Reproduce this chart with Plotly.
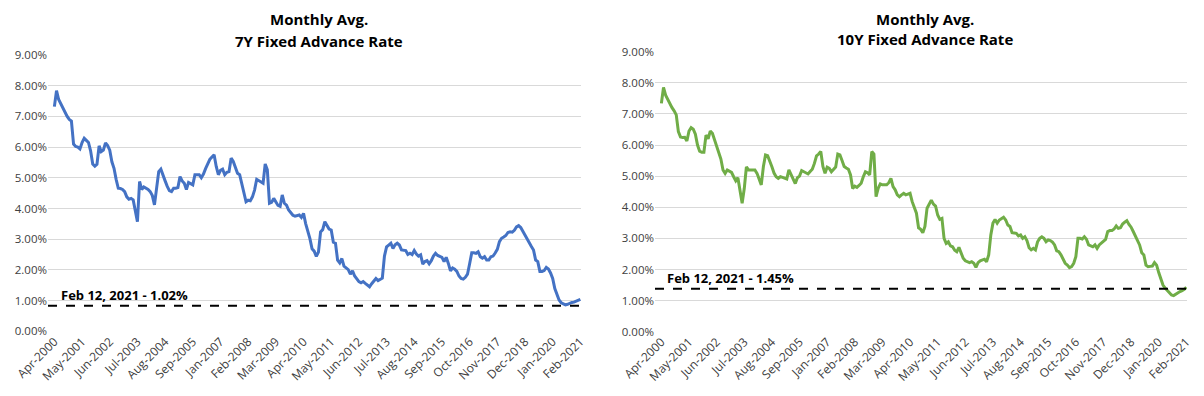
import pandas as pd
import plotly.graph_objects as go

# Category labels: monthly, Apr-2000 .. Feb-2021 (3 months absent in 2006 per axis labels)
all_months = pd.date_range("2000-04-01", "2021-02-01", freq="MS")
missing = ["2006-06", "2006-07", "2006-08"]
months = [d.strftime("%b-%Y") for d in all_months if d.strftime("%Y-%m") not in missing]

tick_labels = ["Apr-2000", "May-2001", "Jun-2002", "Jul-2003", "Aug-2004", "Sep-2005",
               "Jan-2007", "Feb-2008", "Mar-2009", "Apr-2010", "May-2011", "Jun-2012",
               "Jul-2013", "Aug-2014", "Sep-2015", "Oct-2016", "Nov-2017", "Dec-2018",
               "Jan-2020", "Feb-2021"]

rate_7y = [
    7.32, 7.84, 7.55, 7.40, 7.28, 7.12, 7.00, 6.90, 6.85, 6.10,
    6.02, 6.00, 5.94, 6.15, 6.29, 6.22, 6.15, 5.88, 5.45, 5.38,
    5.44, 6.04, 5.85, 5.90, 6.14, 6.05, 5.90, 5.52, 5.31, 4.95,
    4.66, 4.65, 4.62, 4.55, 4.38, 4.30, 4.33, 4.28, 3.95, 3.57,
    4.88, 4.62, 4.70, 4.66, 4.62, 4.55, 4.42, 4.12, 4.70, 5.20,
    5.28, 5.05, 4.90, 4.72, 4.58, 4.55, 4.66, 4.66, 4.68, 5.04,
    4.90, 4.82, 4.62, 4.85, 4.80, 4.77, 5.10, 5.10, 5.10, 5.00,
    5.12, 5.30, 5.48, 5.60, 5.68, 5.75, 5.37, 5.10, 5.24, 5.28,
    5.10, 5.18, 5.20, 5.64, 5.53, 5.35, 5.15, 5.10, 4.82, 4.60,
    4.22, 4.27, 4.25, 4.38, 4.60, 4.95, 4.90, 4.88, 4.82, 5.45,
    5.26, 4.17, 4.20, 4.33, 4.20, 4.10, 4.07, 4.44, 4.17, 4.11,
    3.95, 3.85, 3.78, 3.75, 3.77, 3.79, 3.71, 3.84, 3.51, 3.30,
    3.02, 2.69, 2.61, 2.44, 2.58, 3.24, 3.31, 3.57, 3.45, 3.33,
    3.30, 2.90, 2.87, 2.32, 2.23, 2.37, 2.12, 2.05, 2.01, 1.86,
    1.97, 1.80, 1.70, 1.62, 1.58, 1.62, 1.56, 1.50, 1.45, 1.55,
    1.62, 1.72, 1.65, 1.70, 1.73, 2.45, 2.75, 2.81, 2.87, 2.70,
    2.82, 2.87, 2.81, 2.65, 2.64, 2.63, 2.50, 2.54, 2.50, 2.63,
    2.52, 2.45, 2.49, 2.19, 2.27, 2.30, 2.20, 2.30, 2.45, 2.54,
    2.47, 2.43, 2.41, 2.27, 2.41, 2.21, 1.97, 2.06, 2.02, 1.95,
    1.80, 1.72, 1.70, 1.76, 1.86, 2.20, 2.56, 2.56, 2.54, 2.59,
    2.43, 2.38, 2.43, 2.32, 2.32, 2.43, 2.45, 2.55, 2.67, 2.92,
    3.03, 3.07, 3.12, 3.22, 3.24, 3.23, 3.29, 3.40, 3.44, 3.38,
    3.25, 3.11, 3.00, 2.87, 2.76, 2.65, 2.32, 2.27, 1.95, 1.95,
    1.98, 2.08, 2.03, 1.90, 1.72, 1.39, 1.18, 1.02, 0.93, 0.89,
    0.86, 0.88, 0.92, 0.94, 0.95, 0.98, 1.00, 1.04,
]

rate_10y = [
    7.34, 7.85, 7.60, 7.45, 7.30, 7.20, 7.10, 6.97, 6.43, 6.26,
    6.24, 6.25, 6.13, 6.45, 6.56, 6.51, 6.35, 6.00, 5.80, 5.77,
    5.77, 6.32, 6.20, 6.45, 6.38, 6.16, 5.95, 5.80, 5.55, 5.20,
    5.09, 5.20, 5.17, 5.12, 4.98, 4.85, 4.95, 4.56, 4.13, 4.60,
    5.30, 5.20, 5.20, 5.22, 5.20, 5.09, 4.88, 4.72, 5.31, 5.68,
    5.66, 5.50, 5.30, 5.10, 4.98, 4.93, 4.98, 4.96, 4.94, 4.91,
    5.20, 5.06, 4.91, 4.76, 4.95, 5.00, 5.18, 5.14, 5.12, 5.07,
    5.15, 5.22, 5.41, 5.65, 5.71, 5.79, 5.31, 5.09, 5.29, 5.25,
    5.14, 5.20, 5.29, 5.71, 5.68, 5.50, 5.31, 5.26, 5.22, 5.04,
    4.60, 4.68, 4.64, 4.70, 4.77, 4.98, 5.14, 5.11, 5.04, 5.79,
    5.71, 4.34, 4.61, 4.75, 4.72, 4.72, 4.72, 4.79, 4.93, 4.66,
    4.56, 4.40, 4.34, 4.40, 4.45, 4.40, 4.42, 4.45, 4.18, 3.97,
    3.81, 3.34, 3.29, 3.18, 3.38, 3.97, 4.11, 4.23, 4.10, 4.04,
    3.75, 3.61, 3.64, 3.00, 2.84, 2.89, 2.76, 2.73, 2.62, 2.57,
    2.71, 2.50, 2.36, 2.28, 2.25, 2.22, 2.25, 2.20, 2.07, 2.22,
    2.28, 2.31, 2.33, 2.25, 2.47, 3.11, 3.49, 3.61, 3.49, 3.59,
    3.65, 3.68, 3.59, 3.43, 3.38, 3.18, 3.17, 3.16, 3.08, 3.11,
    3.00, 3.05, 2.93, 2.70, 2.63, 2.68, 2.63, 2.89, 3.00, 3.05,
    3.00, 2.89, 2.95, 2.93, 2.88, 2.79, 2.60, 2.57, 2.47, 2.33,
    2.20, 2.14, 2.06, 2.09, 2.20, 2.41, 3.00, 3.00, 2.98, 3.05,
    2.97, 2.79, 2.76, 2.73, 2.79, 2.68, 2.79, 2.84, 2.90, 2.97,
    3.22, 3.25, 3.25, 3.30, 3.40, 3.32, 3.34, 3.46, 3.52, 3.57,
    3.45, 3.36, 3.22, 3.08, 2.95, 2.79, 2.54, 2.47, 2.14, 2.09,
    2.10, 2.11, 2.22, 2.14, 1.90, 1.68, 1.50, 1.40, 1.32, 1.25,
    1.18, 1.16, 1.21, 1.25, 1.29, 1.32, 1.36, 1.43,
]

ref_level_7y = 0.83
ref_level_10y = 1.38
ref_text_7y = "Feb 12, 2021 - 1.02%"
ref_text_10y = "Feb 12, 2021 - 1.45%"
y_ticks = [0, 1, 2, 3, 4, 5, 6, 7, 8, 9]

OFF = 8  # page body margin
W, H = 1204 - OFF, 396 - OFF
FONT = "Open Sans"
TICK_COLOR = "#404040"
GRID = "#D9D9D9"


def px(v):
    return (v - OFF) / W


def py(v):
    return (H - (v - OFF)) / H


fig = go.Figure()
fig.add_trace(go.Scatter(x=months, y=rate_7y, mode="lines",
                         line=dict(color="#4472C4", width=3), xaxis="x", yaxis="y",
                         showlegend=False, hoverinfo="skip"))
fig.add_trace(go.Scatter(x=months, y=rate_10y, mode="lines",
                         line=dict(color="#70AD47", width=3), xaxis="x2", yaxis="y2",
                         showlegend=False, hoverinfo="skip"))


def xax(domain):
    return dict(domain=domain, type="category", categoryorder="array", categoryarray=months,
                range=[-3, 247.3], tickmode="array", tickvals=tick_labels, ticktext=tick_labels,
                tickangle=-45, showgrid=False, zeroline=False, showline=False, ticks="",
                tickfont=dict(family=FONT, size=12, color=TICK_COLOR), automargin=False)


def yax(domain, anchor):
    return dict(domain=domain, anchor=anchor, range=[0, 9], tickmode="array", tickvals=y_ticks,
                ticktext=[f"{v:.2f}%" for v in y_ticks], showgrid=True, gridcolor=GRID,
                gridwidth=1, zeroline=False, showline=False, ticks="",
                tickfont=dict(family=FONT, size=11.5, color=TICK_COLOR), automargin=False)


fig.update_layout(
    width=W, height=H, margin=dict(l=0, r=0, t=0, b=0),
    paper_bgcolor="white", plot_bgcolor="white",
    xaxis=dict(**xax([px(48), px(581)]), anchor="y"),
    yaxis=yax([py(331.3), py(55)], "x"),
    xaxis2=dict(**xax([px(655), px(1187)]), anchor="y2"),
    yaxis2=yax([py(331.7), py(51.7)], "x2"),
)

# dashed reference lines
fig.add_shape(type="line", xref="x domain", yref="y", x0=0.0, x1=1.0,
              y0=ref_level_7y, y1=ref_level_7y, line=dict(color="black", width=2, dash="dash"))
fig.add_shape(type="line", xref="x2 domain", yref="y2", x0=0.0, x1=1.0,
              y0=ref_level_10y, y1=ref_level_10y, line=dict(color="black", width=2, dash="dash"))

# reference text
fig.add_annotation(text=f"<b>{ref_text_7y}</b>", xref="paper", yref="paper",
                   x=px(59), y=py(295), xanchor="left", yanchor="middle", showarrow=False,
                   font=dict(family=FONT, size=13, color="black"))
fig.add_annotation(text=f"<b>{ref_text_10y}</b>", xref="paper", yref="paper",
                   x=px(665), y=py(278), xanchor="left", yanchor="middle", showarrow=False,
                   font=dict(family=FONT, size=13, color="black"))

# titles
for cx, y1, y2, name in [(319, 19, 41, "7Y Fixed Advance Rate"), (925, 18.5, 39, "10Y Fixed Advance Rate")]:
    fig.add_annotation(text="<b>Monthly Avg.</b>", xref="paper", yref="paper", x=px(cx),
                       y=py(y1), xanchor="center", yanchor="middle", showarrow=False,
                       font=dict(family=FONT, size=15, color="black"))
    fig.add_annotation(text=f"<b>{name}</b>", xref="paper", yref="paper", x=px(cx),
                       y=py(y2), xanchor="center", yanchor="middle", showarrow=False,
                       font=dict(family=FONT, size=15, color="black"))

fig.write_html("out.html")
